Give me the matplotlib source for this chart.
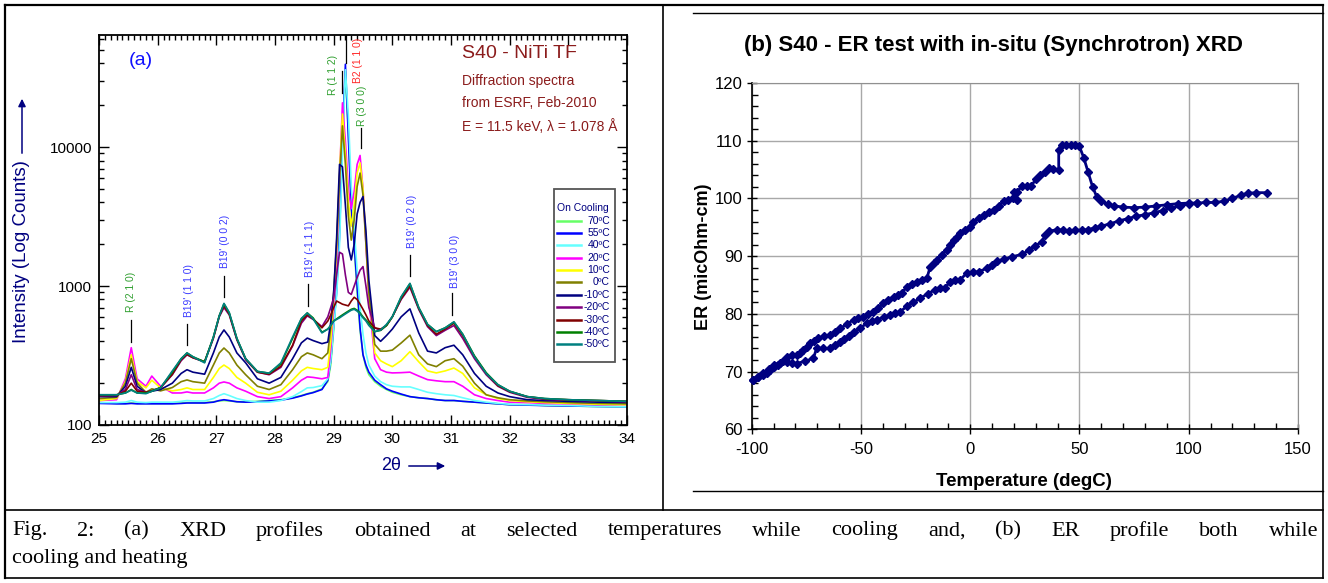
import numpy as np
import matplotlib
matplotlib.use("Agg")
import matplotlib.pyplot as plt
from matplotlib.lines import Line2D
from matplotlib.patches import Rectangle, FancyArrowPatch
from matplotlib.ticker import MultipleLocator, NullFormatter, LogLocator

W, H = 1328, 583
plt.rcParams['font.family'] = ['Liberation Sans', 'DejaVu Sans']
plt.rcParams['axes.unicode_minus'] = False

# ---------------- (a) XRD spectra ----------------
two_theta = [25.0, 25.3, 25.45, 25.55, 25.65, 25.8, 25.9, 26.05, 26.25, 26.4,
             26.5, 26.6, 26.8, 26.95, 27.05, 27.13, 27.22, 27.35, 27.5, 27.7,
             27.9, 28.1, 28.3, 28.45, 28.55, 28.65, 28.8, 28.9, 28.95, 29.0,
             29.05, 29.1, 29.15, 29.2, 29.25, 29.3, 29.35, 29.4, 29.45, 29.5,
             29.55, 29.6, 29.7, 29.8, 29.9, 30.0, 30.15, 30.3, 30.45, 30.6,
             30.75, 30.9, 31.05, 31.2, 31.4, 31.6, 31.8, 32.0, 32.3, 32.6,
             33.0, 33.5, 34.0]

temps = ['70ºC', '55ºC', '40ºC', '20ºC', '10ºC', '0ºC',
         '-10ºC', '-20ºC', '-30ºC', '-40ºC', '-50ºC']
colors = ['#66ff66', '#0000ff', '#66ffff', '#ff00ff', '#ffff00', '#808000',
          '#000080', '#800080', '#800000', '#008000', '#008080']

I_70 = [145, 143, 143, 144, 143, 143, 143, 143, 143, 144,
        145, 145, 145, 147, 149, 150, 149, 147, 147, 148,
        150, 152, 157, 163, 168, 172, 182, 205, 270, 480,
        1000, 2600, 11000, 35000, 13000, 4000, 1900, 900, 480, 320,
        260, 230, 205, 190, 180, 172, 165, 160, 157, 155,
        152, 150, 150, 148, 146, 144, 142, 140, 140, 138,
        137, 136, 135]
I_55 = [143, 142, 142, 143, 142, 142, 142, 142, 142, 143,
        144, 144, 144, 146, 150, 152, 150, 147, 146, 147,
        149, 151, 156, 162, 167, 171, 180, 210, 290, 520,
        900, 2300, 12000, 39400, 12000, 3600, 2000, 1000, 500, 320,
        270, 240, 210, 195, 182, 175, 167, 160, 157, 155,
        152, 150, 150, 148, 146, 144, 142, 140, 139, 138,
        137, 136, 135]
I_40 = [145, 145, 146, 150, 146, 145, 146, 146, 146, 148,
        150, 149, 149, 155, 163, 168, 163, 155, 150, 146,
        146, 150, 160, 174, 185, 186, 192, 215, 290, 500,
        850, 2000, 9000, 36000, 17000, 5200, 2600, 1300, 700, 450,
        330, 270, 225, 205, 195, 190, 188, 188, 180, 172,
        168, 165, 163, 157, 150, 146, 143, 141, 140, 139,
        138, 136, 135]
I_20 = [150, 152, 215, 360, 215, 190, 225, 190, 170, 170,
        173, 170, 170, 185, 200, 204, 200, 185, 175, 160,
        155, 160, 185, 210, 222, 220, 215, 220, 350, 700,
        1500, 6000, 20800, 11000, 5000, 3600, 4800, 7500, 8700, 5000,
        2000, 800, 300, 250, 240, 237, 238, 240, 225, 212,
        208, 205, 205, 190, 165, 155, 150, 146, 145, 143,
        142, 140, 140]
I_10 = [150, 155, 205, 320, 205, 185, 210, 185, 176, 180,
        185, 180, 180, 220, 255, 270, 255, 220, 200, 172,
        165, 175, 210, 245, 260, 255, 250, 260, 400, 800,
        1800, 6500, 17300, 9000, 4000, 2700, 3800, 6500, 7700, 5000,
        2200, 900, 330, 290, 275, 263, 290, 337, 285, 245,
        237, 245, 257, 235, 185, 165, 155, 150, 147, 145,
        143, 141, 140]
I_0 = [155, 158, 200, 300, 200, 172, 182, 176, 186, 205,
       211, 205, 200, 270, 330, 358, 330, 270, 230, 190,
       180, 195, 250, 310, 330, 320, 300, 330, 500, 900,
       2000, 6000, 14200, 7500, 3200, 2140, 3000, 5200, 6500, 4500,
       2000, 900, 380, 340, 340, 346, 389, 443, 320, 275,
       263, 290, 300, 265, 200, 165, 157, 152, 149, 147,
       145, 143, 142]
I_m10 = [160, 160, 190, 260, 190, 170, 175, 180, 200, 235,
         250, 240, 232, 330, 430, 483, 430, 330, 280, 215,
         200, 220, 300, 390, 422, 405, 385, 395, 550, 900,
         2200, 7500, 7200, 3800, 1900, 1540, 2000, 3300, 4000, 4400,
         2500, 1100, 440, 400, 440, 490, 600, 685, 460, 340,
         330, 360, 375, 320, 235, 190, 170, 160, 152, 150,
         148, 146, 145]
I_m20 = [162, 163, 180, 230, 180, 172, 176, 185, 230, 290,
         320, 305, 285, 420, 600, 700, 620, 410, 295, 240,
         230, 260, 370, 540, 610, 575, 510, 600, 700, 820,
         1200, 1750, 1700, 1200, 900, 870, 1000, 1150, 1300, 1380,
         1000, 700, 500, 480, 520, 600, 800, 980, 680, 510,
         440, 480, 520, 420, 300, 230, 190, 172, 158, 153,
         151, 149, 147]
I_m30 = [163, 164, 175, 200, 175, 172, 176, 186, 232, 295,
         322, 305, 285, 425, 610, 720, 630, 415, 298, 240,
         232, 265, 375, 560, 620, 580, 500, 560, 620, 700,
         780, 760, 740, 730, 720, 780, 830, 800, 740, 680,
         620, 560, 500, 490, 520, 600, 810, 1000, 690, 520,
         450, 490, 540, 440, 310, 235, 192, 174, 160, 154,
         152, 150, 148]
I_m40 = [165, 165, 170, 180, 170, 170, 175, 186, 240, 300,
         330, 310, 285, 430, 610, 745, 640, 420, 300, 243,
         236, 275, 420, 580, 640, 590, 465, 490, 520, 560,
         580, 600, 620, 640, 660, 680, 690, 670, 640, 600,
         570, 540, 470, 480, 520, 600, 830, 1040, 700, 530,
         470, 500, 550, 450, 315, 238, 195, 175, 160, 155,
         152, 150, 148]
I_m50 = [165, 165, 170, 178, 170, 168, 175, 185, 245, 300,
         330, 310, 280, 430, 610, 750, 645, 420, 300, 243,
         236, 280, 430, 585, 640, 580, 460, 490, 520, 560,
         575, 590, 610, 630, 650, 670, 680, 660, 630, 590,
         560, 520, 469, 482, 530, 602, 837, 1045, 700, 530,
         469, 500, 553, 450, 310, 235, 195, 175, 160, 155,
         152, 150, 148]
spectra = [I_70, I_55, I_40, I_20, I_10, I_0, I_m10, I_m20, I_m30, I_m40, I_m50]

# peak labels: text, 2theta of text, counts at text bottom, colour
GREEN, BLUE, RED = '#2f9f2f', '#3a3aff', '#ff2a2a'
peak_labels = [("R (2 1 0)", 25.55, 650, GREEN),
               ("B19' (1 1 0)", 26.53, 597, BLUE),
               ("B19' (0 0 2)", 27.15, 1350, BLUE),
               ("B19' (-1 1 1)", 28.60, 1160, BLUE),
               ("R (1 1 2)", 28.99, 23700, GREEN),
               ("B2 (1 1 0)", 29.42, 28900, RED),
               ("R (3 0 0)", 29.49, 14150, GREEN),
               ("B19' (0 2 0)", 30.33, 1870, BLUE),
               ("B19' (3 0 0)", 31.07, 970, BLUE)]
# marker bars: 2theta, low, high
peak_bars = [(25.54, 395, 569), (26.50, 376, 532), (27.13, 830, 1180),
             (28.57, 718, 1034), (29.14, 24500, 35200), (29.21, 40000, 64000),
             (29.46, 9900, 13600), (30.30, 1180, 1670), (31.02, 620, 890)]

# ---------------- (b) ER during cooling then heating ----------------
T_cool = [136, 131, 127, 124, 120, 116, 112, 108, 104, 100,
          95, 90, 85, 80, 75, 70, 66, 63, 60, 58,
          56, 54, 52, 50, 48, 46, 44, 42, 40.5, 40.5,
          38, 36, 34, 32, 30, 28, 26, 23.7, 21.5, 20,
          21.4, 19.8, 17.5, 15.3, 13, 10.7, 8.4, 6.1, 3.8, 1.5,
          0, -2.3, -4.6, -6.1, -7.6, -9.2, -10.7, -13, -15.3, -16.8,
          -18.3, -19.8, -22.1, -24.4, -26.7, -29, -31.3, -33.2, -35.1, -37.4,
          -39.7, -42, -44.3, -46.6, -48.9, -51.2, -53.4, -56.5, -59.5, -62,
          -64.1, -66.8, -69.5, -71.4, -73.3, -74.8, -76.3, -77.9, -79.4, -81.7,
          -84, -85.9, -87.8, -89.7, -91.6, -93.2, -94.7, -97, -99.2]
ER_cool = [101.0, 101.0, 100.9, 100.6, 100.0, 99.5, 99.3, 99.3, 99.2, 99.2,
           99.1, 98.9, 98.7, 98.5, 98.4, 98.5, 98.7, 99.0, 99.5, 100.2,
           102.0, 104.5, 107.0, 109.0, 109.2, 109.2, 109.2, 109.2, 108.4, 105.0,
           105.1, 105.3, 104.6, 104.1, 103.3, 102.2, 102.1, 102.1, 101.2, 101.2,
           99.8, 100.0, 99.7, 99.5, 98.7, 98.0, 97.6, 97.2, 96.6, 96.0,
           95.0, 94.5, 94.0, 93.4, 92.8, 92.0, 91.1, 90.2, 89.4, 88.8,
           88.2, 86.2, 85.9, 85.6, 85.2, 84.7, 83.6, 83.3, 83.0, 82.4,
           81.8, 81.1, 80.4, 79.9, 79.5, 79.2, 79.0, 78.2, 77.5, 76.9,
           76.4, 76.1, 75.8, 75.3, 74.9, 74.3, 73.8, 73.2, 72.9, 72.8,
           72.6, 71.9, 71.2, 70.8, 70.3, 69.8, 69.4, 69.0, 68.6]
T_heat = [-99.2, -97, -94.7, -92.3, -90, -87, -84, -81.7, -79.4, -75.6,
          -71.8, -70.3, -67.2, -64.1, -61.8, -59.5, -57.6, -55.7, -53, -50.4,
          -47.3, -45, -42.7, -39.6, -36.6, -34.3, -32, -29, -26, -22.9,
          -19.4, -16, -13.7, -11.5, -9.2, -6.9, -4.6, -1.5, 1.2, 3.8,
          7.6, 10, 12.2, 15.6, 19.1, 23.7, 26.7, 29.8, 32.8, 34.4,
          35.9, 39.7, 42.4, 45, 48, 51, 54, 57, 60, 64,
          68, 72, 76, 80, 84, 88, 92, 96, 100, 104]
ER_heat = [68.6, 69.0, 69.7, 70.4, 71.2, 71.5, 71.7, 71.5, 71.4, 71.8,
           72.3, 74.0, 74.0, 74.0, 74.6, 75.2, 75.6, 76.1, 76.8, 77.5,
           78.4, 78.7, 79.0, 79.4, 79.8, 80.1, 80.4, 81.3, 82.0, 82.7,
           83.5, 84.2, 84.4, 84.5, 85.6, 85.8, 85.9, 87.1, 87.2, 87.3,
           87.9, 88.5, 89.1, 89.5, 89.9, 90.3, 91.0, 91.8, 92.5, 93.7,
           94.3, 94.6, 94.5, 94.4, 94.5, 94.5, 94.6, 94.9, 95.2, 95.6,
           96.1, 96.5, 96.9, 97.2, 97.5, 97.9, 98.3, 98.7, 99.0, 99.2]

caption1 = "Fig. 2: (a) XRD profiles obtained at selected temperatures while cooling and, (b) ER profile both while"
caption2 = "cooling and heating"

NAVY = '#000080'
DARKRED = '#8b1c1c'


def fx(x):
    return x / W


def fy(y):
    return 1 - y / H


fig = plt.figure(figsize=(W / 100, H / 100), dpi=100)
fig.patch.set_facecolor('white')

# table frame
def fline(x0, y0, x1, y1, lw=1.2):
    fig.add_artist(Line2D([fx(x0), fx(x1)], [fy(y0), fy(y1)], color='black', lw=lw,
                          transform=fig.transFigure))

fline(5, 5, 1323, 5, 1.6)
fline(5, 5, 5, 578, 1.6)
fline(1323, 5, 1323, 578, 1.2)
fline(5, 578, 1323, 578, 1.2)
fline(663, 5, 663, 510, 1.2)
fline(5, 510, 1323, 510, 1.2)
fline(693, 13, 1323, 13, 1.0)
fline(693, 491, 1323, 491, 1.0)

# ---------------- panel (a) ----------------
axL = fig.add_axes([fx(99), fy(425), (627 - 99) / W, (425 - 35) / H])
for temp, col, vals in zip(temps, colors, spectra):
    axL.plot(two_theta, vals, color=col, lw=1.2)

for x, lo, hi in peak_bars:
    axL.plot([x, x], [lo, hi], color='black', lw=0.9)
for txt, x, yb, col in peak_labels:
    axL.text(x, yb, txt, rotation=90, ha='center', va='bottom', fontsize=7.4, color=col)

axL.set_yscale('log')
axL.set_xlim(25, 34)
axL.set_ylim(100, 64000)
axL.set_xticks(range(25, 35))
axL.xaxis.set_minor_locator(MultipleLocator(0.1))
axL.set_yticks([100, 1000, 10000])
axL.set_yticklabels(['100', '1000', '10000'])
axL.yaxis.set_minor_locator(LogLocator(base=10, subs=np.arange(2, 10)))
axL.yaxis.set_minor_formatter(NullFormatter())
axL.tick_params(which='both', direction='in', top=True, right=True, labelsize=11, width=1)
axL.tick_params(which='major', length=7, pad=5)
axL.tick_params(which='minor', length=3.5)
for s in axL.spines.values():
    s.set_linewidth(1.3)

# legend box
lx0, lx1, ly0, ly1 = 0.862, 0.977, 0.161, 0.604
axL.add_patch(Rectangle((lx0, ly0), lx1 - lx0, ly1 - ly0, transform=axL.transAxes,
                        facecolor='white', edgecolor='#555555', lw=1.3, zorder=5))
axL.text(0.916, 0.557, 'On Cooling', transform=axL.transAxes, ha='center', va='center',
         fontsize=7.5, color=NAVY, zorder=6)
for k, (temp, col) in enumerate(zip(temps, colors)):
    yy = 0.524 - k * 0.0317
    axL.add_line(Line2D([0.867, 0.913], [yy, yy], transform=axL.transAxes, color=col,
                        lw=1.8, zorder=6))
    axL.text(0.968, yy, temp, transform=axL.transAxes, ha='right', va='center',
             fontsize=7.5, color=NAVY, zorder=6)

axL.text(0.079, 0.935, '(a)', transform=axL.transAxes, ha='center', va='center',
         fontsize=14, color='#1010ff')

# info text
fig.text(fx(462), fy(54), 'S40 - NiTi TF', fontsize=14, color=DARKRED, va='center')
fig.text(fx(462), fy(80.7), 'Diffraction spectra', fontsize=10, color=DARKRED, va='center')
fig.text(fx(462), fy(102.7), 'from ESRF, Feb-2010', fontsize=10, color=DARKRED, va='center')
fig.text(fx(462), fy(126.7), 'E = 11.5 keV, λ = 1.078 Å', fontsize=10, color=DARKRED,
         va='center')

# axis labels with arrows
fig.text(fx(22), fy(251.5), 'Intensity (Log Counts)', rotation=90, ha='center', va='center',
         fontsize=13.5, color=NAVY)
fig.add_artist(FancyArrowPatch((fx(22), fy(156)), (fx(22), fy(96)),
                               transform=fig.transFigure, arrowstyle='-|>', mutation_scale=11,
                               color=NAVY, lw=1.1))
fig.text(fx(391), fy(465), '2θ', ha='center', va='center', fontsize=13, color=NAVY)
fig.add_artist(FancyArrowPatch((fx(406), fy(466)), (fx(448), fy(466)),
                               transform=fig.transFigure, arrowstyle='-|>', mutation_scale=11,
                               color=NAVY, lw=1.1))

# ---------------- panel (b) ----------------
axR = fig.add_axes([fx(751.7), fy(429.3), (1298 - 751.7) / W, (429.3 - 83) / H])
axR.plot(T_cool + T_heat, ER_cool + ER_heat, color=NAVY, lw=2, marker='D', ms=4,
         zorder=3, clip_on=False)
axR.set_xlim(-100, 150)
axR.set_ylim(60, 120)
axR.set_xticks(range(-100, 151, 50))
axR.set_yticks(range(60, 121, 10))
axR.xaxis.set_minor_locator(MultipleLocator(10))
axR.yaxis.set_minor_locator(MultipleLocator(2))
axR.grid(True, which='major', color='#a8a8a8', lw=1)
axR.set_axisbelow(True)
axR.tick_params(which='major', direction='inout', length=7, labelsize=12, width=1)
axR.tick_params(axis='x', which='major', pad=6)
axR.tick_params(axis='y', which='major', pad=3)
axR.tick_params(which='minor', direction='in', length=4, width=1)
for s in ['top', 'right']:
    axR.spines[s].set_color('#909090')
for s in ['left', 'bottom']:
    axR.spines[s].set_linewidth(1.2)

fig.text(fx(993), fy(45), '(b) S40 - ER test with in-situ (Synchrotron) XRD', ha='center',
         va='center', fontsize=16, fontweight='bold')
fig.text(fx(704), fy(257), 'ER (micOhm-cm)', rotation=90, ha='center', va='center',
         fontsize=13, fontweight='bold')
fig.text(fx(1024), fy(481), 'Temperature (degC)', ha='center', va='center', fontsize=13.5,
         fontweight='bold')

# ---------------- caption (first line justified) ----------------
cap_kw = dict(fontsize=16, family=['Liberation Serif', 'DejaVu Serif'], va='center')
words = caption1.split()
wtexts = [fig.text(0, fy(531), w, **cap_kw) for w in words]
fig.canvas.draw()
r = fig.canvas.get_renderer()
widths = [t.get_window_extent(r).width for t in wtexts]
gap = (1318 - 12 - sum(widths)) / (len(words) - 1)
xpos = 12
for t, w in zip(wtexts, widths):
    t.set_x(fx(xpos))
    xpos += w + gap
fig.text(fx(12), fy(559), caption2, **cap_kw)

fig.savefig('out.png', dpi=100)
